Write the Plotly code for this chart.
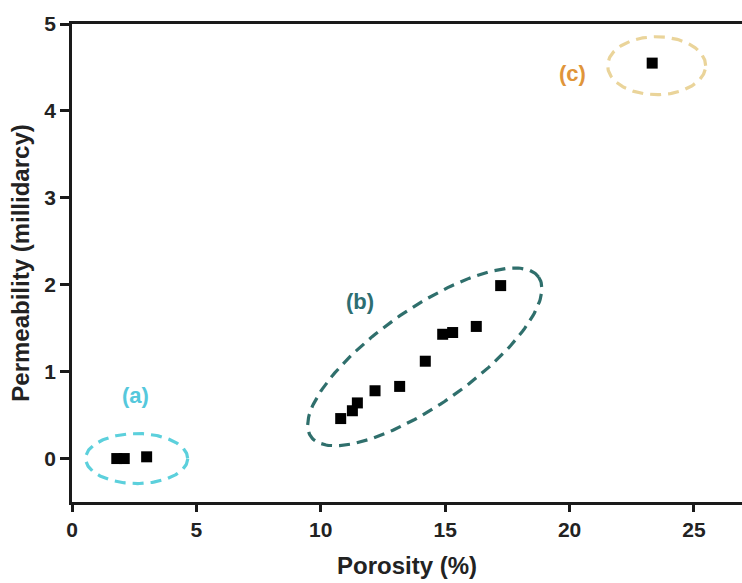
import numpy as np
import plotly.graph_objects as go

# ---- data ----
porosity_a = [1.8, 2.1, 3.0]
perm_a = [0.0, 0.0, 0.02]
porosity_b = [10.8, 11.27, 11.47, 12.18, 13.17, 14.2, 14.9, 15.3, 16.25, 17.23]
perm_b = [0.46, 0.55, 0.64, 0.78, 0.83, 1.12, 1.43, 1.45, 1.52, 1.99]
porosity_c = [23.32]
perm_c = [4.55]

x_ticks = [0, 5, 10, 15, 20, 25]
y_ticks = [0, 1, 2, 3, 4, 5]
x_range = [0, 26.93]
y_range = [-0.5, 5]

# group labels: text, x, y, colour
group_labels = ["(a)", "(b)", "(c)"]
label_x = [2.55, 11.57, 20.12]
label_y = [0.72, 1.81, 4.43]
label_colors = ["#55c8dc", "#2d6e72", "#e0953a"]

# ellipses: center x, center y, semi-major (px), semi-minor (px), angle (deg, screen)
ell_cx = [2.6, 14.18, 23.5]
ell_cy = [0.0, 1.17, 4.52]
ell_a = [51, 139, 49]
ell_b = [25, 48, 29]
ell_ang = [0, 35, 0]
ell_colors = ["#5cd0dc", "#2f6f6c", "#ead49a"]

W, H = 742, 583
ml, mr, mt, mb = 72, 0, 24, 81
px_x = (W - ml - mr) / (x_range[1] - x_range[0])
px_y = (H - mt - mb) / (y_range[1] - y_range[0])

fig = go.Figure()

t = np.linspace(0, 2 * np.pi, 200)
for cx, cy, a, b, ang, col in zip(ell_cx, ell_cy, ell_a, ell_b, ell_ang, ell_colors):
    th = np.deg2rad(ang)
    dxp = a * np.cos(t) * np.cos(th) - b * np.sin(t) * np.sin(th)
    dyp = a * np.cos(t) * np.sin(th) + b * np.sin(t) * np.cos(th)
    fig.add_trace(go.Scatter(
        x=cx + dxp / px_x, y=cy + dyp / px_y, mode="lines",
        line=dict(color=col, width=3.2, dash="11px,7px"),
        hoverinfo="skip", showlegend=False, cliponaxis=False))

all_x = porosity_a + porosity_b + porosity_c
all_y = perm_a + perm_b + perm_c
fig.add_trace(go.Scatter(
    x=all_x, y=all_y, mode="markers",
    marker=dict(symbol="square", size=11, color="black"),
    showlegend=False))

for txt, lx, ly, col in zip(group_labels, label_x, label_y, label_colors):
    fig.add_annotation(x=lx, y=ly, text=txt, showarrow=False,
                       font=dict(family="Liberation Sans", size=22, color=col, weight="bold"))

tick_font = dict(family="Liberation Sans", size=21, color="#222", weight="bold")
title_font = dict(family="Liberation Sans", size=24, color="#222", weight="bold")
fig.update_layout(
    width=W, height=H,
    margin=dict(l=ml, r=mr, t=mt, b=mb, autoexpand=False),
    plot_bgcolor="white", paper_bgcolor="white",
    xaxis=dict(range=x_range, tickvals=x_ticks, showgrid=False, zeroline=False,
               showline=True, linecolor="#1a1a1a", linewidth=2.5, mirror=True,
               ticks="outside", ticklen=7, tickwidth=2.5, tickcolor="#1a1a1a",
               tickfont=tick_font, automargin=False,
               title=dict(text="Porosity (%)", font=title_font, standoff=18)),
    yaxis=dict(range=y_range, tickvals=y_ticks, showgrid=False, zeroline=False,
               showline=True, linecolor="#1a1a1a", linewidth=2.5,
               ticks="outside", ticklen=9, tickwidth=2.5, tickcolor="#1a1a1a",
               tickfont=tick_font, automargin=False,
               title=dict(text="Permeability (millidarcy)", font=title_font, standoff=8)),
)

fig.write_html("out.html", config={"displayModeBar": False},
               post_script="document.body.style.margin='0';document.body.style.overflow='hidden';")
